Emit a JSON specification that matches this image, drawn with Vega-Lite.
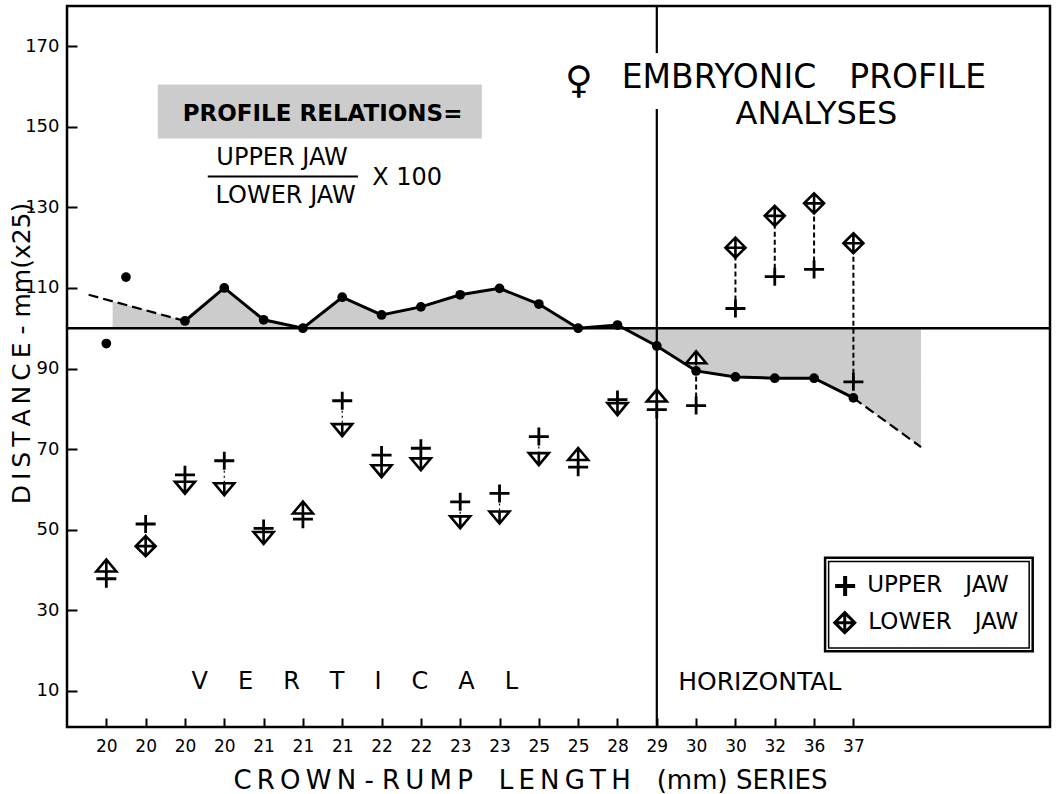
{
  "$schema": "https://vega.github.io/schema/vega-lite/v6.json",
  "width": 983,
  "height": 721,
  "autosize": "none",
  "padding": {"left": 67, "top": 6, "right": 10, "bottom": 67},
  "background": "white",
  "config": {
    "font": "DejaVu Sans",
    "view": {"stroke": "black", "strokeWidth": 2.5},
    "axis": {"grid": false, "domain": false, "tickColor": "black", "tickWidth": 2, "labelColor": "black", "titleColor": "black", "labelFont": "DejaVu Sans", "titleFont": "DejaVu Sans", "titleFontWeight": "normal"}
  },
  "datasets": {
    "profile": [
      {"pos": 0.55, "ratio": 108.3, "kind": "trend_start"},
      {"pos": 1, "ratio": 96.2, "kind": "isolated"},
      {"pos": 1.16, "ratio": 106.7, "kind": "shade_start"},
      {"pos": 1.5, "ratio": 112.7, "kind": "isolated"},
      {"pos": 3, "ratio": 101.8, "kind": "observed"},
      {"pos": 4, "ratio": 110.0, "kind": "observed"},
      {"pos": 5, "ratio": 102.1, "kind": "observed"},
      {"pos": 6, "ratio": 100.0, "kind": "observed"},
      {"pos": 7, "ratio": 107.7, "kind": "observed"},
      {"pos": 8, "ratio": 103.3, "kind": "observed"},
      {"pos": 9, "ratio": 105.3, "kind": "observed"},
      {"pos": 10, "ratio": 108.3, "kind": "observed"},
      {"pos": 11, "ratio": 109.9, "kind": "observed"},
      {"pos": 12, "ratio": 106.0, "kind": "observed"},
      {"pos": 13, "ratio": 100.0, "kind": "observed"},
      {"pos": 14, "ratio": 100.8, "kind": "observed"},
      {"pos": 15, "ratio": 95.6, "kind": "observed"},
      {"pos": 16, "ratio": 89.4, "kind": "observed"},
      {"pos": 17, "ratio": 87.9, "kind": "observed"},
      {"pos": 18, "ratio": 87.6, "kind": "observed"},
      {"pos": 19, "ratio": 87.6, "kind": "observed"},
      {"pos": 20, "ratio": 82.7, "kind": "observed"},
      {"pos": 21.72, "ratio": 70.5, "kind": "trend_end"}
    ],
    "jaws": [
      {"pos": 1, "crl": 20, "upper": 37.8, "lower": 39.6},
      {"pos": 2, "crl": 20, "upper": 51.4, "lower": 45.9},
      {"pos": 3, "crl": 20, "upper": 63.6, "lower": 61.9},
      {"pos": 4, "crl": 20, "upper": 67.1, "lower": 61.5},
      {"pos": 5, "crl": 21, "upper": 50.3, "lower": 49.4},
      {"pos": 6, "crl": 21, "upper": 52.6, "lower": 54.0},
      {"pos": 7, "crl": 21, "upper": 82.0, "lower": 76.2},
      {"pos": 8, "crl": 22, "upper": 68.5, "lower": 66.0},
      {"pos": 9, "crl": 22, "upper": 70.2, "lower": 67.7},
      {"pos": 10, "crl": 23, "upper": 56.9, "lower": 53.3},
      {"pos": 11, "crl": 23, "upper": 59.0, "lower": 54.5},
      {"pos": 12, "crl": 25, "upper": 73.1, "lower": 69.0},
      {"pos": 13, "crl": 25, "upper": 65.5, "lower": 67.3},
      {"pos": 14, "crl": 28, "upper": 82.3, "lower": 81.4},
      {"pos": 15, "crl": 29, "upper": 79.8, "lower": 81.8},
      {"pos": 16, "crl": 30, "upper": 80.8, "lower": 91.3},
      {"pos": 17, "crl": 30, "upper": 104.9, "lower": 120.0},
      {"pos": 18, "crl": 32, "upper": 112.8, "lower": 127.9},
      {"pos": 19, "crl": 36, "upper": 114.6, "lower": 131.0},
      {"pos": 20, "crl": 37, "upper": 86.7, "lower": 121.1}
    ]
  },
  "layer": [
    {
      "data": {"name": "profile"},
      "transform": [{"filter": "datum.kind != 'isolated' && datum.kind != 'trend_start'"}],
      "mark": {"type": "area", "color": "#cccccc", "opacity": 1},
      "encoding": {
        "x": {
          "field": "pos", "type": "quantitative",
          "scale": {"domain": [0, 25], "nice": false, "zero": false},
          "axis": {
            "values": [1,2,3,4,5,6,7,8,9,10,11,12,13,14,15,16,17,18,19,20],
            "labelExpr": "['20','20','20','20','21','21','21','22','22','23','23','25','25','28','29','30','30','32','36','37'][datum.value - 1]",
            "tickSize": -9, "labelPadding": 20, "labelFontSize": 17,
            "title": "C\u2009R\u2009O\u2009W\u2009N - R\u2009U\u2009M\u2009P\u2003L\u2009E\u2009N\u2009G\u2009T\u2009H\u2003(mm) SERIES",
            "titleFontSize": 26, "titleX": 463, "titleY": 61, "titleAlign": "center", "titleBaseline": "alphabetic", "titleAnchor": null
          }
        },
        "y": {
          "field": "ratio", "type": "quantitative",
          "scale": {"domain": [1, 180], "nice": false, "zero": false},
          "axis": {
            "values": [10, 30, 50, 70, 90, 110, 130, 150, 170],
            "tickSize": -10, "labelPadding": 18, "labelFontSize": 18,
            "title": "D\u2009I\u2009S\u2009T\u2009A\u2009N\u2009C\u2009E - mm(x25)",
            "titleFontSize": 25, "titleX": -46, "titleY": 347, "titleAngle": 270, "titleAlign": "center", "titleBaseline": "middle"
          }
        },
        "y2": {"datum": 100}
      }
    },
    {
      "data": {"values": [{}]},
      "mark": {"type": "rect", "color": "#cccccc"},
      "encoding": {"x": {"datum": 2.31}, "x2": {"datum": 10.55}, "y": {"datum": 147.1}, "y2": {"datum": 160.5}}
    },
    {
      "data": {"values": [{}]},
      "mark": {"type": "rule", "color": "black", "strokeWidth": 2.5},
      "encoding": {"y": {"datum": 100}}
    },
    {
      "data": {"values": [{}]},
      "mark": {"type": "rule", "color": "black", "strokeWidth": 2.2},
      "encoding": {"x": {"datum": 15}, "y": {"datum": 180}, "y2": {"datum": 168.3}}
    },
    {
      "data": {"values": [{}]},
      "mark": {"type": "rule", "color": "black", "strokeWidth": 2.2},
      "encoding": {"x": {"datum": 15}, "y": {"datum": 154.4}, "y2": {"datum": 1}}
    },
    {
      "data": {"name": "profile"},
      "transform": [{"filter": "datum.kind == 'trend_start' || (datum.kind == 'observed' && datum.pos == 3)"}],
      "mark": {"type": "line", "color": "black", "strokeWidth": 2.2, "strokeDash": [10, 5]},
      "encoding": {"x": {"field": "pos", "type": "quantitative"}, "y": {"field": "ratio", "type": "quantitative"}}
    },
    {
      "data": {"name": "profile"},
      "transform": [{"filter": "datum.kind == 'trend_end' || (datum.kind == 'observed' && datum.pos == 20)"}],
      "mark": {"type": "line", "color": "black", "strokeWidth": 2.2, "strokeDash": [10, 5]},
      "encoding": {"x": {"field": "pos", "type": "quantitative"}, "y": {"field": "ratio", "type": "quantitative"}}
    },
    {
      "data": {"name": "profile"},
      "transform": [{"filter": "datum.kind == 'observed'"}],
      "mark": {"type": "line", "color": "black", "strokeWidth": 3},
      "encoding": {"x": {"field": "pos", "type": "quantitative"}, "y": {"field": "ratio", "type": "quantitative"}}
    },
    {
      "data": {"name": "profile"},
      "transform": [{"filter": "datum.kind == 'observed' || datum.kind == 'isolated'"}],
      "mark": {"type": "point", "shape": "circle", "filled": true, "color": "black", "size": 95, "opacity": 1},
      "encoding": {"x": {"field": "pos", "type": "quantitative"}, "y": {"field": "ratio", "type": "quantitative"}}
    },
    {
      "data": {"name": "jaws"},
      "mark": {"type": "rule", "color": "black"},
      "encoding": {
        "x": {"field": "pos", "type": "quantitative"},
        "y": {"field": "upper", "type": "quantitative"},
        "y2": {"field": "lower"},
        "strokeDash": {"condition": {"test": "datum.pos >= 16", "value": [5, 3]}, "value": [2, 3]},
        "strokeWidth": {"condition": {"test": "datum.pos >= 16", "value": 2}, "value": 1.2}
      }
    },
    {
      "data": {"name": "jaws"},
      "mark": {"type": "point", "shape": "M-1,0L1,0M0,-0.9L0,0.9", "filled": false, "stroke": "black", "strokeWidth": 2.8, "size": 400, "opacity": 1},
      "encoding": {"x": {"field": "pos", "type": "quantitative"}, "y": {"field": "upper", "type": "quantitative"}}
    },
    {
      "data": {"name": "jaws"},
      "mark": {"type": "point", "filled": true, "fill": "white", "stroke": "black", "strokeWidth": 2.6, "size": 400, "opacity": 1, "fillOpacity": 1},
      "encoding": {
        "x": {"field": "pos", "type": "quantitative"},
        "y": {"field": "lower", "type": "quantitative"},
        "shape": {
          "condition": [
            {"test": "datum.pos == 2 || datum.pos >= 17", "value": "M0,-1L1,0L0,1L-1,0ZM0,-1L0,1M-1,0L1,0"},
            {"test": "datum.lower < datum.upper", "value": "M-1,0L1,0L0,1.2ZM0,0L0,1.2"}
          ],
          "value": "M-1,0L1,0L0,-1.2ZM0,0L0,-1.2"
        }
      }
    },
    {
      "data": {"values": [{}]},
      "mark": {"type": "text", "fontSize": 23, "fontWeight": "bold", "align": "center", "baseline": "middle", "color": "black"},
      "encoding": {"x": {"datum": 6.5}, "y": {"datum": 153.2}, "text": {"value": "PROFILE RELATIONS="}}
    },
    {
      "data": {"values": [{}]},
      "mark": {"type": "text", "fontSize": 24, "align": "center", "baseline": "middle", "color": "black"},
      "encoding": {"x": {"datum": 5.47}, "y": {"datum": 142.3}, "text": {"value": "UPPER JAW"}}
    },
    {
      "data": {"values": [{}]},
      "mark": {"type": "rule", "color": "black", "strokeWidth": 2},
      "encoding": {"x": {"datum": 3.58}, "x2": {"datum": 7.4}, "y": {"datum": 137.7}}
    },
    {
      "data": {"values": [{}]},
      "mark": {"type": "text", "fontSize": 24, "align": "center", "baseline": "middle", "color": "black"},
      "encoding": {"x": {"datum": 5.56}, "y": {"datum": 132.8}, "text": {"value": "LOWER JAW"}}
    },
    {
      "data": {"values": [{}]},
      "mark": {"type": "text", "fontSize": 24, "align": "center", "baseline": "middle", "color": "black"},
      "encoding": {"x": {"datum": 8.65}, "y": {"datum": 137.3}, "text": {"value": "X 100"}}
    },
    {
      "data": {"values": [{}]},
      "mark": {"type": "text", "fontSize": 38, "align": "center", "baseline": "middle", "color": "black"},
      "encoding": {"x": {"datum": 13.02}, "y": {"datum": 161.1}, "text": {"value": "♀"}}
    },
    {
      "data": {"values": [{}]},
      "mark": {"type": "text", "fontSize": 33, "align": "center", "baseline": "middle", "color": "black"},
      "encoding": {"x": {"datum": 18.74}, "y": {"datum": 162.2}, "text": {"value": "EMBRYONIC\u2003PROFILE"}}
    },
    {
      "data": {"values": [{}]},
      "mark": {"type": "text", "fontSize": 32, "align": "center", "baseline": "middle", "color": "black"},
      "encoding": {"x": {"datum": 19.06}, "y": {"datum": 153.2}, "text": {"value": "ANALYSES"}}
    },
    {
      "data": {"values": [{}]},
      "mark": {"type": "text", "fontSize": 24, "align": "center", "baseline": "middle", "color": "black"},
      "encoding": {"x": {"datum": 7.32}, "y": {"datum": 12.2}, "text": {"value": "V\u2003\u2005E\u2003\u2005R\u2003\u2005T\u2003\u2005I\u2003\u2005C\u2003\u2005A\u2003\u2005L"}}
    },
    {
      "data": {"values": [{}]},
      "mark": {"type": "text", "fontSize": 25, "align": "center", "baseline": "middle", "color": "black"},
      "encoding": {"x": {"datum": 17.62}, "y": {"datum": 12.2}, "text": {"value": "HORIZONTAL"}}
    },
    {
      "data": {"values": [{}]},
      "mark": {"type": "rect", "fillOpacity": 0, "stroke": "black", "strokeWidth": 2.5},
      "encoding": {"x": {"datum": 19.28}, "x2": {"datum": 24.56}, "y": {"datum": 19.8}, "y2": {"datum": 43.0}}
    },
    {
      "data": {"values": [{}]},
      "mark": {"type": "rect", "fillOpacity": 0, "stroke": "black", "strokeWidth": 1.5},
      "encoding": {"x": {"datum": 19.37}, "x2": {"datum": 24.47}, "y": {"datum": 20.6}, "y2": {"datum": 42.1}}
    },
    {
      "data": {"values": [{}]},
      "mark": {"type": "point", "shape": "M-1,0L1,0M0,-1L0,1", "filled": false, "stroke": "black", "strokeWidth": 4, "size": 400, "opacity": 1},
      "encoding": {"x": {"datum": 19.79}, "y": {"datum": 36.0}}
    },
    {
      "data": {"values": [{}]},
      "mark": {"type": "point", "shape": "M0,-1L1,0L0,1L-1,0ZM0,-1L0,1M-1,0L1,0", "filled": true, "fill": "white", "stroke": "black", "strokeWidth": 3, "size": 400, "opacity": 1},
      "encoding": {"x": {"datum": 19.78}, "y": {"datum": 26.9}}
    },
    {
      "data": {"values": [{}]},
      "mark": {"type": "text", "fontSize": 23, "align": "left", "baseline": "middle", "color": "black"},
      "encoding": {"x": {"datum": 20.35}, "y": {"datum": 36.3}, "text": {"value": "UPPER\u2003JAW"}}
    },
    {
      "data": {"values": [{}]},
      "mark": {"type": "text", "fontSize": 23, "align": "left", "baseline": "middle", "color": "black"},
      "encoding": {"x": {"datum": 20.38}, "y": {"datum": 27.1}, "text": {"value": "LOWER\u2003JAW"}}
    }
  ]
}
